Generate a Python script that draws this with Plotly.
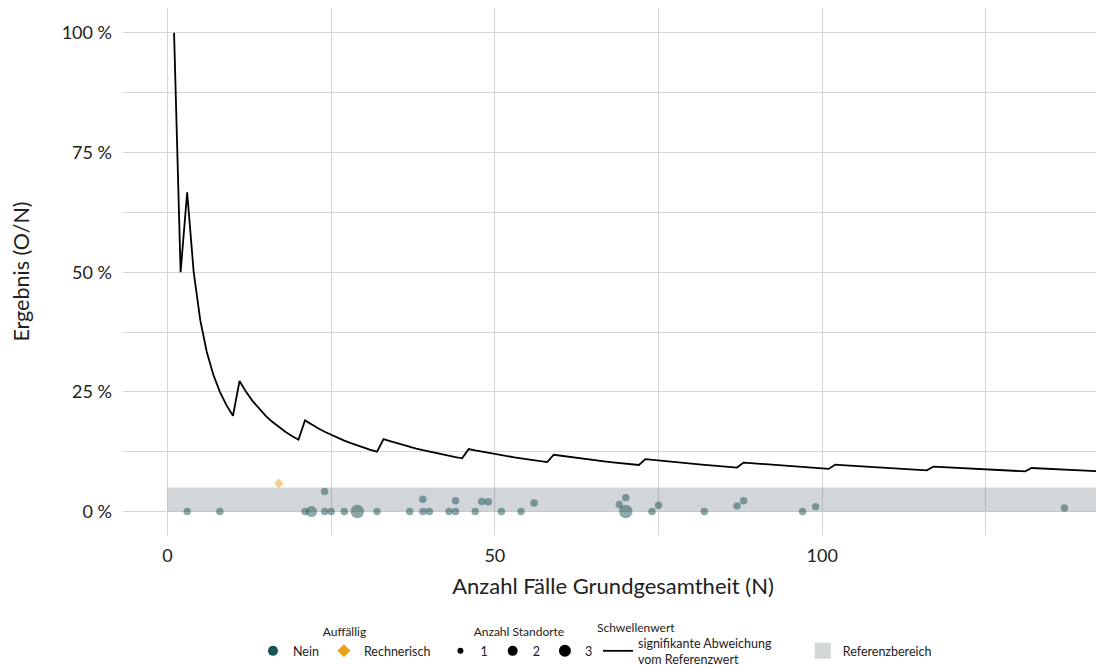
import plotly.graph_objects as go

# Standorte ohne Auffaelligkeit: Grundgesamtheit N, beobachtete Faelle O, Anzahl Standorte
nein_n = [3, 8, 21, 22, 24, 24, 25, 27, 29, 32, 37, 39, 39, 40, 43, 44, 44, 47, 48, 49,
          51, 54, 56, 69, 70, 70, 74, 75, 82, 87, 88, 97, 99, 137]
nein_o = [0, 0, 0, 0, 0, 1, 0, 0, 0, 0, 0, 0, 1, 0, 0, 0, 1, 0, 1, 1,
          0, 0, 1, 1, 2, 0, 0, 1, 0, 1, 2, 0, 1, 1]
nein_standorte = [1, 1, 1, 2, 1, 1, 1, 1, 3, 1, 1, 1, 1, 1, 1, 1, 1, 1, 1, 1,
                  1, 1, 1, 1, 1, 3, 1, 1, 1, 1, 1, 1, 1, 1]

# rechnerisch auffaellige Standorte
rechn_n = [17]
rechn_o = [1]
rechn_standorte = [1]

# Schwellenwert: kritische Fallzahl O je Grundgesamtheit N = 1..142
schwelle_o = ([1] * 2 + [2] * 8 + [3] * 10 + [4] * 12 + [5] * 13 + [6] * 13 + [7] * 14
              + [8] * 15 + [9] * 14 + [10] * 15 + [11] * 15 + [12] * 11)
schwelle_n = list(range(1, len(schwelle_o) + 1))

# Referenzbereich 0 % bis 5 %
ref_x = [0, 142.6]
ref_oben = 5

groesse = {1: 7.5, 2: 11, 3: 13.5}
FONT = "Lato"
TEAL = "#1b5455"
GOLD = "#e8a21a"


def prozent(o, n):
    return [100 * a / b for a, b in zip(o, n)]


fig = go.Figure()

fig.add_trace(go.Scatter(
    x=[ref_x[0], ref_x[1], ref_x[1], ref_x[0]], y=[0, 0, ref_oben, ref_oben],
    fill="toself", fillcolor="rgba(70,85,95,0.24)", mode="none",
    showlegend=False, hoverinfo="skip"))

fig.add_trace(go.Scatter(
    x=nein_n, y=prozent(nein_o, nein_n), mode="markers",
    marker=dict(color=TEAL, opacity=0.5, size=[groesse[s] for s in nein_standorte],
                line=dict(width=0)),
    showlegend=False))

fig.add_trace(go.Scatter(
    x=rechn_n, y=prozent(rechn_o, rechn_n), mode="markers",
    marker=dict(color=GOLD, opacity=0.5, symbol="diamond",
                size=[groesse[s] for s in rechn_standorte], line=dict(width=0)),
    showlegend=False))

fig.add_trace(go.Scatter(
    x=schwelle_n, y=prozent(schwelle_o, schwelle_n), mode="lines",
    line=dict(color="black", width=1.8), showlegend=False))

# Legendeneintraege
fig.add_trace(go.Scatter(x=[None], y=[None], mode="markers", name="Nein",
                         marker=dict(color=TEAL, size=10), legend="legend"))
fig.add_trace(go.Scatter(x=[None], y=[None], mode="markers", name="Rechnerisch",
                         marker=dict(color=GOLD, size=10, symbol="diamond"),
                         legend="legend"))
for s, d in [(1, 6), (2, 10), (3, 12)]:
    fig.add_trace(go.Scatter(x=[None], y=[None], mode="markers", name=str(s),
                             marker=dict(color="black", size=d), legend="legend2"))
fig.add_trace(go.Scatter(x=[None], y=[None], mode="lines",
                         name="signifikante Abweichung<br>vom Referenzwert",
                         line=dict(color="black", width=1.8), legend="legend3"))
fig.add_trace(go.Scatter(x=[None], y=[None], mode="markers", name="Referenzbereich",
                         marker=dict(color="#d2d7da", size=30, symbol="square"),
                         legend="legend4"))

grid = "#d6d6d6"
LEG_Y = -0.1625
leg = dict(orientation="h", yanchor="top", y=LEG_Y, xanchor="center",
           font=dict(family=FONT, size=12.5, color="#222"), bgcolor="rgba(0,0,0,0)",
           itemclick=False, tracegroupgap=0)
leg_title = dict(side="top center", font=dict(family=FONT, size=12, color="#222"))

# die Seite hat 8 px Rand, daher etwas kleinere Abbildung
fig.update_layout(
    width=1096, height=658,
    margin=dict(l=115, r=1, t=0, b=131, autoexpand=False),
    paper_bgcolor="white", plot_bgcolor="white",
    font=dict(family=FONT, color="#222"),
    xaxis=dict(range=[-6.8, 142.9], tickmode="linear", tick0=0, dtick=50,
               automargin=False,
               showgrid=True, gridcolor=grid, gridwidth=1.3, zeroline=False,
               minor=dict(tickmode="linear", tick0=0, dtick=25, showgrid=True,
                          gridcolor=grid, gridwidth=1.3),
               tickfont=dict(size=18), ticklabelstandoff=8,
               title=dict(text="Anzahl Fälle Grundgesamtheit (N)",
                          font=dict(size=22), standoff=13)),
    yaxis=dict(range=[-4.9, 105.2], tickmode="linear", tick0=0, dtick=25,
               automargin=False,
               ticksuffix=" %", showgrid=True, gridcolor=grid, gridwidth=1.3,
               zeroline=False,
               minor=dict(tickmode="linear", tick0=0, dtick=12.5, showgrid=True,
                          gridcolor=grid, gridwidth=1.3),
               tickfont=dict(size=18), ticklabelstandoff=10,
               title=dict(text="Ergebnis (O/N)", font=dict(size=21.5), standoff=34)),
    legend=dict(leg, x=0.226, title=dict(leg_title, text="Auffällig")),
    legend2=dict(leg, x=0.404, title=dict(leg_title, text="Anzahl Standorte")),
    legend3=dict(leg, x=0.576, y=-0.1766),
    legend4=dict(leg, x=0.762, y=-0.192),
    annotations=[dict(text="Schwellenwert", xref="paper", yref="paper",
                      x=0.5235, y=-0.1755, xanchor="center", yanchor="middle",
                      showarrow=False, font=dict(family=FONT, size=12, color="#222"))],
)

fig.write_html("out.html")
